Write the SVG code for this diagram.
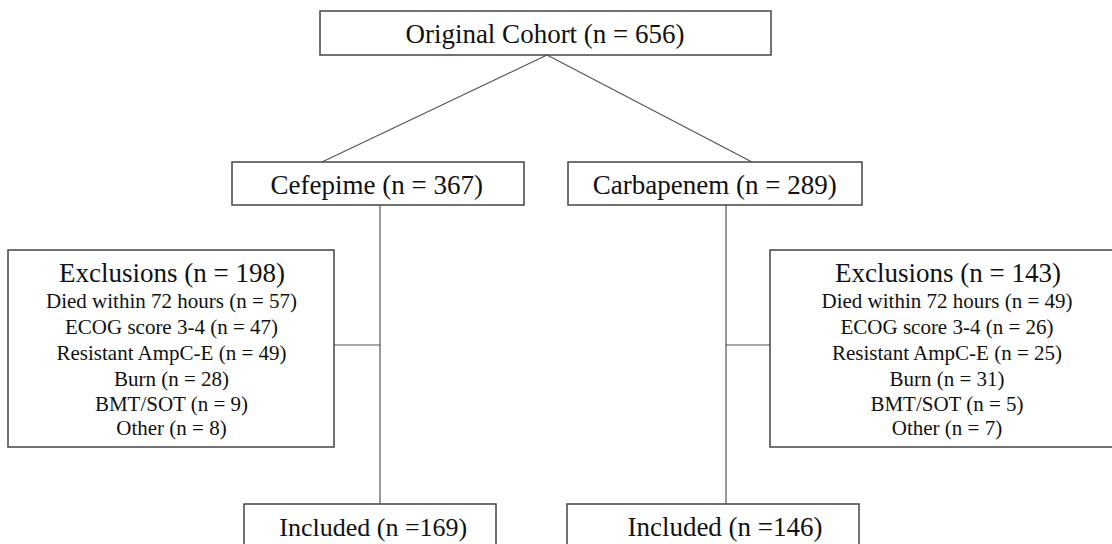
<svg xmlns="http://www.w3.org/2000/svg" width="1112" height="544" viewBox="0 0 1112 544" font-family="'Liberation Serif', 'DejaVu Serif', serif">
<style>
.box{fill:#fff;stroke:#444;stroke-width:1.5}
.conn line{stroke:#555;stroke-width:1.2}
text{font-family:'Liberation Serif','DejaVu Serif',serif;fill:#111;text-anchor:middle}
.big{font-size:27px}
.sm{font-size:21px}
</style>
<rect width="1112" height="544" fill="#fff"/>
<g class="conn" id="connectors">
<line x1="547" y1="55" x2="322" y2="162"/>
<line x1="547" y1="55" x2="752" y2="162"/>
<line x1="380" y1="205" x2="380" y2="504"/>
<line x1="726" y1="205" x2="726" y2="504"/>
<line x1="334" y1="345" x2="380" y2="345"/>
<line x1="726" y1="345" x2="770" y2="345"/>
</g>
<g id="original">
<rect class="box" x="320" y="11" width="451" height="44"/>
<text class="big" x="545" y="43">Original Cohort (n = 656)</text>
</g>
<g id="cefepime">
<rect class="box" x="232" y="162" width="292" height="43"/>
<text class="big" x="376.7" y="194">Cefepime (n = 367)</text>
</g>
<g id="carbapenem">
<rect class="box" x="568" y="162" width="294" height="43"/>
<text class="big" x="714.7" y="194">Carbapenem (n = 289)</text>
</g>
<g id="excl-left">
<rect class="box" x="8" y="250" width="326" height="197"/>
<text class="big" x="172" y="282">Exclusions (n = 198)</text>
<text class="sm" x="171.5" y="308">Died within 72 hours (n = 57)</text>
<text class="sm" x="171.5" y="334">ECOG score 3-4 (n = 47)</text>
<text class="sm" x="171.5" y="360">Resistant AmpC-E (n = 49)</text>
<text class="sm" x="171.5" y="386">Burn (n = 28)</text>
<text class="sm" x="171.5" y="411">BMT/SOT (n = 9)</text>
<text class="sm" x="171.5" y="435">Other (n = 8)</text>
</g>
<g id="excl-right">
<rect class="box" x="770" y="250" width="356" height="197"/>
<text class="big" x="948" y="282">Exclusions (n = 143)</text>
<text class="sm" x="947" y="308">Died within 72 hours (n = 49)</text>
<text class="sm" x="947" y="334">ECOG score 3-4 (n = 26)</text>
<text class="sm" x="947" y="360">Resistant AmpC-E (n = 25)</text>
<text class="sm" x="947" y="386">Burn (n = 31)</text>
<text class="sm" x="947" y="411">BMT/SOT (n = 5)</text>
<text class="sm" x="947" y="435">Other (n = 7)</text>
</g>
<g id="included-left">
<rect class="box" x="244" y="504" width="252" height="50"/>
<text class="big" x="373.3" y="536" style="font-size:26px">Included (n =169)</text>
</g>
<g id="included-right">
<rect class="box" x="567" y="504" width="292" height="50"/>
<text class="big" x="725" y="536">Included (n =146)</text>
</g>
</svg>
